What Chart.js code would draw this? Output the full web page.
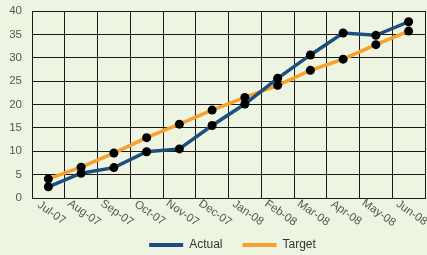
<!DOCTYPE html>
<html>
<head>
<meta charset="utf-8">
<script src="https://cdn.jsdelivr.net/npm/chart.js@4/dist/chart.umd.min.js"></script>
<style>
  html, body { margin: 0; padding: 0; background: #eef4e2; }
  #wrap { width: 427px; height: 255px; }
</style>
</head>
<body>
<div id="wrap"><canvas id="chart" width="427" height="255"></canvas></div>
<script>
/* ── data ─────────────────────────────────────────── */
const months = ["Jul-07", "Aug-07", "Sep-07", "Oct-07", "Nov-07", "Dec-07",
                "Jan-08", "Feb-08", "Mar-08", "Apr-08", "May-08", "Jun-08"];
const actual = [2.4, 5.3, 6.5, 9.9, 10.5, 15.5, 20.1, 25.6, 30.6, 35.3, 34.8, 37.7];
const target = [4.1, 6.6, 9.6, 12.9, 15.8, 18.8, 21.5, 24.1, 27.3, 29.7, 32.8, 35.7];
const yTicks = [0, 5, 10, 15, 20, 25, 30, 35, 40];

const BLUE = "#1c4f7f";
const ORANGE = "#f6a12c";
const TEXT = "#555";
const FONT = "Liberation Sans, Arial, sans-serif";

/* ── plugins: background, rotated month labels, legend ── */
const bgPlugin = {
    id: "bg",
    beforeDraw(chart) {
        const { ctx, width, height } = chart;
        ctx.save();
        ctx.fillStyle = "#eef4e2";
        ctx.fillRect(0, 0, width, height);
        ctx.restore();
    },
};

const monthLabels = {
    id: "monthLabels",
    afterDraw(chart) {
        const { ctx, chartArea } = chart;
        const xs = chart.scales.x;
        ctx.save();
        ctx.font = `11.5px ${FONT}`;
        ctx.fillStyle = TEXT;
        ctx.textAlign = "center";
        ctx.textBaseline = "middle";
        months.forEach((m, i) => {
            const x = xs.getPixelForTick(i);
            ctx.save();
            ctx.translate(x + 3, chartArea.bottom + 15);
            ctx.rotate(35 * Math.PI / 180);
            ctx.fillText(m, 0, 0);
            ctx.restore();
        });
        ctx.restore();
    },
};

const lineLegend = {
    id: "lineLegend",
    afterDraw(chart) {
        const { ctx, chartArea } = chart;
        const sets = chart.data.datasets;
        ctx.save();
        ctx.font = `12px ${FONT}`;
        const lineW = 34, gap = 6, pad = 20;
        const widths = sets.map(d => lineW + gap + ctx.measureText(d.label).width);
        const total = widths.reduce((a, b) => a + b, 0) + pad * (sets.length - 1);
        let x = (chartArea.left + chartArea.right) / 2 + 4 - total / 2;
        const y = 245;
        sets.forEach((d, i) => {
            ctx.strokeStyle = d.borderColor;
            ctx.lineWidth = 4;
            ctx.beginPath();
            ctx.moveTo(x, y);
            ctx.lineTo(x + lineW, y);
            ctx.stroke();
            ctx.fillStyle = "#333";
            ctx.textBaseline = "middle";
            ctx.fillText(d.label, x + lineW + gap, y);
            x += widths[i] + pad;
        });
        ctx.restore();
    },
};

/* ── chart ───────────────────────────────────────── */
new Chart(document.getElementById("chart"), {
    type: "line",
    data: {
        labels: months,
        datasets: [
            {
                label: "Actual",
                data: actual,
                borderColor: BLUE,
                borderWidth: 3.5,
                pointRadius: 4.5,
                pointBackgroundColor: "#000",
                pointBorderColor: "#000",
                pointBorderWidth: 0,
                tension: 0,
            },
            {
                label: "Target",
                data: target,
                borderColor: ORANGE,
                borderWidth: 3.5,
                pointRadius: 4.5,
                pointBackgroundColor: "#000",
                pointBorderColor: "#000",
                pointBorderWidth: 0,
                tension: 0,
            },
        ],
    },
    options: {
        responsive: false,
        animation: false,
        layout: { autoPadding: false, padding: { top: 11, right: 2, left: 0, bottom: 0 } },
        plugins: {
            legend: { display: false },
            tooltip: { enabled: false },
        },
        scales: {
            x: {
                offset: true,
                grid: { offset: true, color: "#1a1a1a", lineWidth: 1, drawTicks: false },
                border: { color: "#1a1a1a", width: 1 },
                ticks: { display: false },
                afterFit: s => { s.height = 57; },
            },
            y: {
                min: 0,
                max: 40,
                afterBuildTicks: s => { s.ticks = yTicks.map(v => ({ value: v })); },
                grid: { color: "#1a1a1a", lineWidth: 1, drawTicks: false },
                border: { color: "#1a1a1a", width: 1 },
                ticks: { color: TEXT, font: { family: FONT, size: 11.5 }, padding: 10 },
                // tick padding otherwise leaks into the top margin
                afterFit: s => { s.width = 32; s.paddingTop = 0; s.paddingBottom = 0; },
            },
        },
    },
    plugins: [bgPlugin, monthLabels, lineLegend],
});
</script>
</body>
</html>
